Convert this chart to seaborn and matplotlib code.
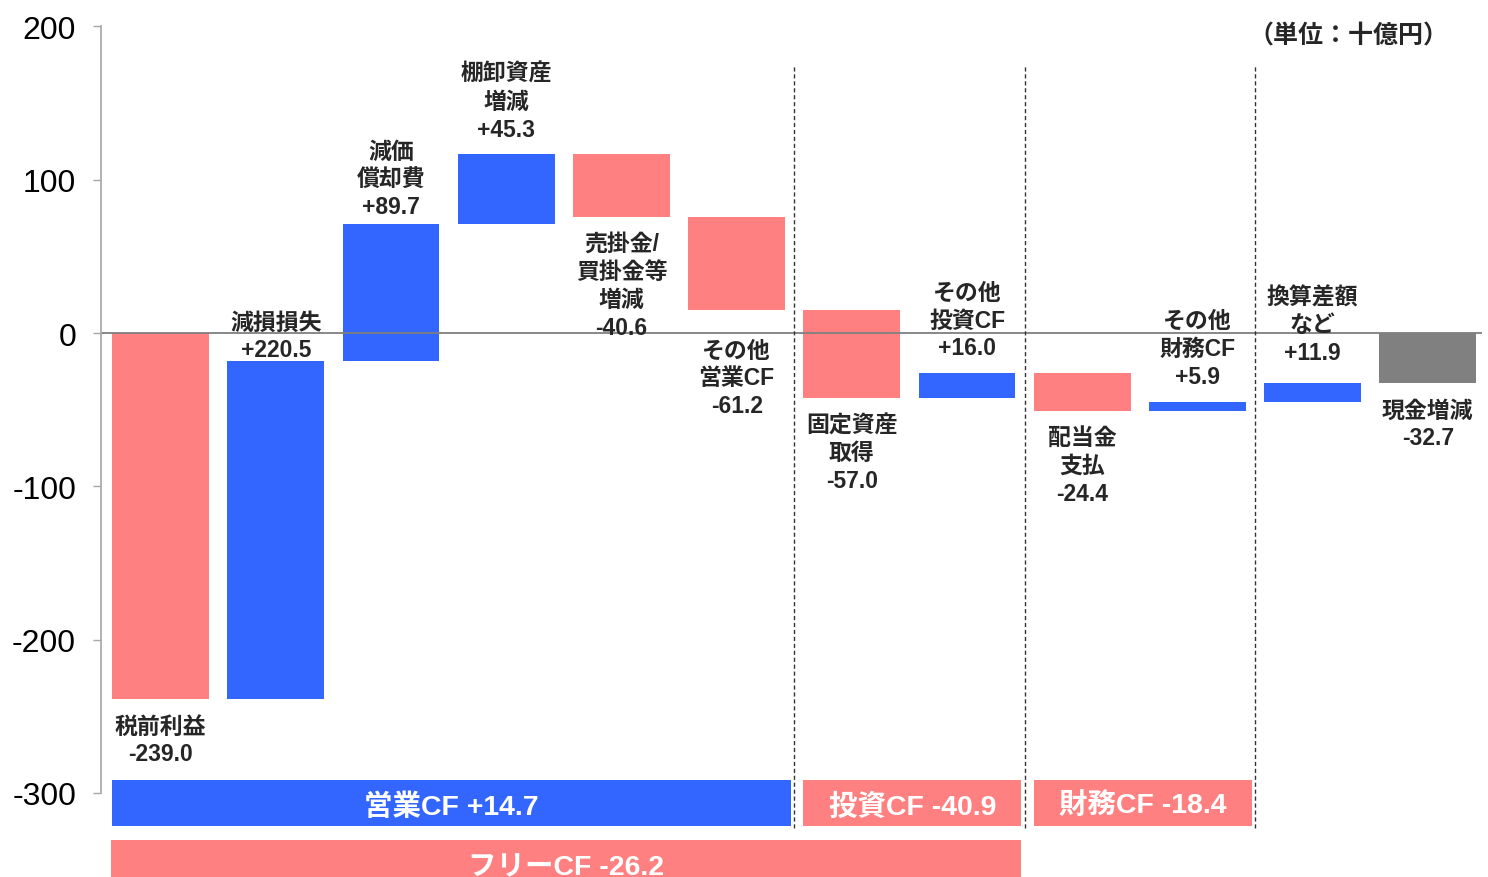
import numpy as np
import pandas as pd
import matplotlib
matplotlib.use("Agg")
import matplotlib.pyplot as plt
import seaborn as sns

# ---------------- data ----------------
item_names = ["税前利益", "減損損失", "減価\n償却費", "棚卸資産\n増減",
              "売掛金/\n買掛金等\n増減", "その他\n営業CF", "固定資産\n取得",
              "その他\n投資CF", "配当金\n支払", "その他\n財務CF",
              "換算差額\nなど", "現金増減"]
item_values = [-239.0, 220.5, 89.7, 45.3, -40.6, -61.2, -57.0, 16.0,
               -24.4, 5.9, 11.9, -32.7]
item_kind = ["step"] * 11 + ["total"]

section_names = ["営業CF", "投資CF", "財務CF"]
section_values = [14.7, -40.9, -18.4]
section_first = [0, 6, 8]
section_last = [5, 7, 9]

free_cf_name = "フリーCF"
free_cf_value = -26.2
free_cf_last = 7

y_ticks = [-300, -200, -100, 0, 100, 200]
unit_label = "（単位：十億円）"

# layout only: label gap from bar edge, in points
label_gap = [11, 0, 4, 10, 11, 4, 11, 10, 11, 10, 14, 11]

# ---------------- style ----------------
BLUE = "#3366FF"
PINK = "#FF8080"
GRAY = "#808080"
FAM = ["Liberation Sans", "Noto Sans CJK JP"]

sns.set_theme(style="white")
plt.rcParams["font.family"] = FAM

W, H = 1488, 878
fig = plt.figure(figsize=(W / 100, H / 100), dpi=100)
ax_left, ax_right = 101, 1482
ax = fig.add_axes([ax_left / W, 0, (ax_right - ax_left) / W, 1])

# waterfall geometry
starts, ends = [], []
run = 0.0
for v, k in zip(item_values, item_kind):
    if k == "total":
        starts.append(0.0)
        ends.append(v)
    else:
        starts.append(run)
        run += v
        ends.append(run)
heights = [e - s for s, e in zip(starts, ends)]
colors = [GRAY if k == "total" else (BLUE if v > 0 else PINK)
          for v, k in zip(item_values, item_kind)]

df = pd.DataFrame({"item": item_names, "height": heights})
sns.barplot(data=df, x="item", y="height", width=0.84, errorbar=None,
            color=BLUE, linewidth=0, ax=ax)
for patch, s, h, c in zip(ax.patches, starts, heights, colors):
    patch.set_y(s)
    patch.set_height(h)
    patch.set_facecolor(c)
    patch.set_edgecolor("none")

ax.set_xlim(-0.518, 11.47)
ax.set_ylim(-354.9, 217.9)

# zero line
ax.axhline(0, color="#7F7F7F", lw=1.3, zorder=1)

# value labels
LBL = dict(ha="center", fontsize=16.5, fontweight="bold", family=FAM,
           linespacing=1.27)
for i, (name, v, s, e, gap) in enumerate(zip(item_names, item_values, starts,
                                              ends, label_gap)):
    txt = f"{name}\n{v:+.1f}"
    hi, lo = max(s, e), min(s, e)
    if v > 0:
        ax.annotate(txt, (i, hi), xytext=(0, gap), textcoords="offset points",
                    va="bottom", **LBL)
    else:
        anchor = 0 if 0 < lo < 30 else lo
        ax.annotate(txt, (i, anchor), xytext=(0, -gap), textcoords="offset points",
                    va="top", **LBL)

# section dividers
for last in section_last:
    ax.vlines(last + 0.5, -323, 175, colors="#333333", lw=1.0,
              linestyles=(0, (3, 2)), zorder=3)

# section bands
band_h = 30
for name, val, f, l in zip(section_names, section_values, section_first, section_last):
    left, right = f - 0.42, l + 0.47
    color = BLUE if val > 0 else PINK
    ax.barh(-306.5, right - left, left=left, height=band_h, color=color, lw=0)
    ax.text((left + right) / 2, -306.5, f"{name} {val:+.1f}", ha="center",
            va="center_baseline", color="white", fontsize=20.5, fontweight="bold",
            family=FAM)

left, right = -0.43, free_cf_last + 0.465
ax.barh(-345.7, right - left, left=left, height=band_h,
        color=BLUE if free_cf_value > 0 else PINK, lw=0)
ax.text((left + right) / 2, -345.7, f"{free_cf_name} {free_cf_value:+.1f}",
        ha="center", va="center_baseline", color="white", fontsize=20.5,
        fontweight="bold", family=FAM)

# axes styling
ax.set_yticks(y_ticks)
ax.set_yticklabels([f"{t}" for t in y_ticks], fontsize=23, family=FAM)
ax.tick_params(axis="y", length=6, width=1, color="#A6A6A6", pad=12,
               left=True, labelcolor="black")
ax.set_xticks([])
ax.set_xlabel("")
ax.set_ylabel("")
for side in ["top", "right", "bottom"]:
    ax.spines[side].set_visible(False)
ax.spines["left"].set_color("#A6A6A6")
ax.spines["left"].set_linewidth(1.2)
ax.spines["left"].set_bounds(-300, 200)

fig.text(1348 / W, 1 - 37 / H, unit_label, ha="center", va="center",
         fontsize=18, fontweight="bold", family=FAM)

fig.savefig("out.png", dpi=100)
